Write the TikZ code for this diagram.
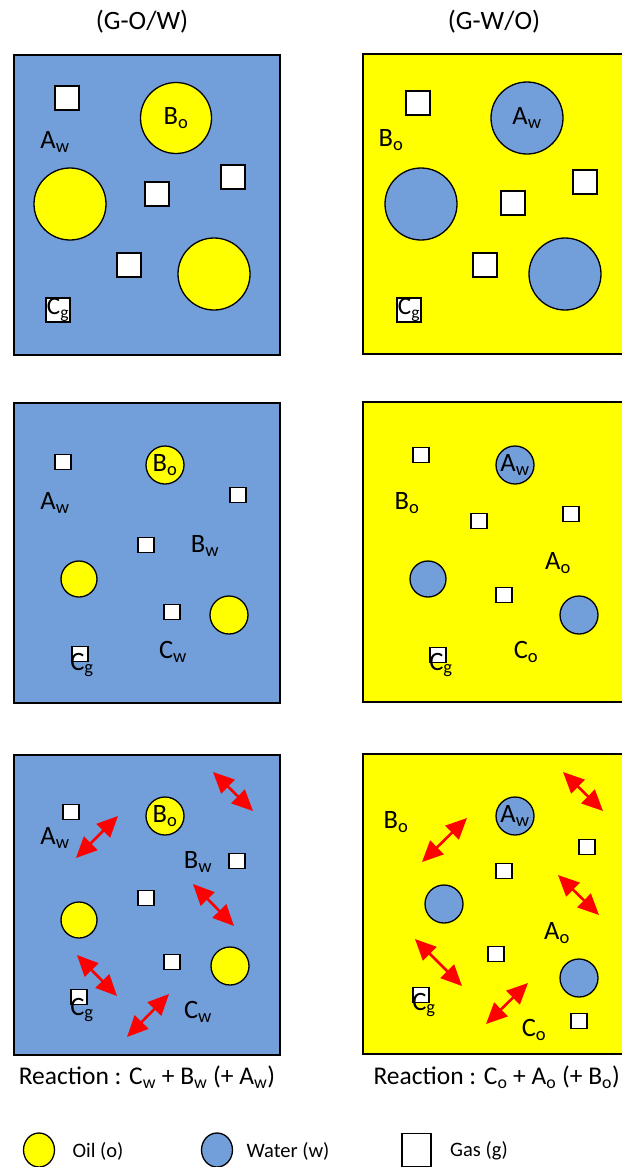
\documentclass[tikz,border=0pt]{standalone}
\usepackage{fontspec}
\setmainfont{Carlito}
\usetikzlibrary{arrows.meta,shapes.geometric}
\definecolor{wat}{RGB}{114,159,218}
\definecolor{oilc}{RGB}{255,255,0}
\tikzset{
  panelline/.style={draw=black,line width=1.6pt},
  oil/.style={circle,draw=black,fill=oilc,line width=1.3pt,inner sep=0pt,font=\fontsize{26.5}{32}\selectfont},
  water/.style={circle,draw=black,fill=wat,line width=1.3pt,inner sep=0pt,font=\fontsize{26.5}{32}\selectfont},
  gasbig/.style={rectangle,draw=black,fill=white,line width=1.3pt,minimum width=24pt,minimum height=24pt,inner sep=0pt,font=\fontsize{25}{30}\selectfont},
  gassm/.style={rectangle,draw=black,fill=white,line width=1.3pt,minimum width=16pt,minimum height=15pt,inner sep=0pt},
  lbl/.style={inner sep=0pt,font=\fontsize{26.5}{32}\selectfont},
  react/.style={inner sep=0pt,font=\fontsize{25.5}{30}\selectfont},
  leg/.style={inner sep=0pt,font=\fontsize{20.5}{24}\selectfont},
  rarrow/.style={draw=red,line width=2.6pt,{Triangle[length=21pt,width=19pt]}-{Triangle[length=21pt,width=19pt]}}
}
\newcommand{\sbs}[1]{\textsubscript{#1}}
\begin{document}
\begin{tikzpicture}[x=1pt,y=-1pt]
\useasboundingbox (0,0) rectangle (622,1167);
% titles
\node[lbl] (t1) at (142,22) {(G-O/W)};
\node[lbl] (t2) at (494,22) {(G-W/O)};
% panels
\node[panelline,fill=wat,minimum width=266pt,minimum height=300pt,anchor=north west,inner sep=0pt] (p1) at (13,54) {};
\fill[oilc] (363,54) rectangle (622,354);
\draw[line width=1.6pt] (622,54) -- (363,54) -- (363,354) -- (622,354);
\node[panelline,fill=wat,minimum width=266pt,minimum height=300pt,anchor=north west,inner sep=0pt] (p3) at (13,402) {};
\fill[oilc] (363,402) rectangle (622,702);
\draw[line width=1.6pt] (622,402) -- (363,402) -- (363,702) -- (622,702);
\node[panelline,fill=wat,minimum width=266pt,minimum height=300pt,anchor=north west,inner sep=0pt] (p5) at (13,754) {};
\fill[oilc] (363,754) rectangle (622,1054);
\draw[line width=1.6pt] (622,754) -- (363,754) -- (363,1054) -- (622,1054);

% panel 1
\node[gasbig] (a1) at (67,98) {};
\node[oil,minimum size=71pt] (a2) at (176,118) {B\sbs{o}};
\node[lbl] (a3) at (55,142) {A\sbs{w}};
\node[oil,minimum size=72pt] (a4) at (70,204) {};
\node[gasbig] (a5) at (157,194) {};
\node[gasbig] (a6) at (233,177) {};
\node[gasbig] (a7) at (129,265) {};
\node[oil,minimum size=72pt] (a8) at (214,274) {};
\node[gasbig] (a9) at (58,310) {C\sbs{g}};

% panel 2
\node[gasbig] (b1) at (418,103) {};
\node[water,minimum size=72pt] (b2) at (527,118) {A\sbs{w}};
\node[lbl] (b3) at (391,140) {B\sbs{o}};
\node[water,minimum size=72pt] (b4) at (421,204) {};
\node[gasbig] (b5) at (513,203) {};
\node[gasbig] (b6) at (585,182) {};
\node[gasbig] (b7) at (485,265) {};
\node[water,minimum size=72pt] (b8) at (565,274) {};
\node[gasbig] (b9) at (409,310) {C\sbs{g}};

% panel 3
\node[gassm] (c1) at (63,462) {};
\node[oil,minimum size=38pt] (c2) at (165,465) {B\sbs{o}};
\node[lbl] (c3) at (55,503) {A\sbs{w}};
\node[gassm] (c4) at (238,495) {};
\node[gassm] (c5) at (146,545) {};
\node[lbl] (c6) at (205,546) {B\sbs{w}};
\node[oil,minimum size=36pt] (c7) at (79,579) {};
\node[gassm] (c8) at (172,612) {};
\node[oil,minimum size=38pt] (c9) at (229,615) {};
\node[gassm] (c10) at (80,654) {};
\node[lbl] (c11) at (82,665) {C\sbs{g}};
\node[lbl] (c12) at (173,652) {C\sbs{w}};

% panel 4
\node[gassm] (d1) at (421,455) {};
\node[water,minimum size=38pt] (d2) at (515,465) {A\sbs{w}};
\node[lbl] (d3) at (407,503) {B\sbs{o}};
\node[gassm] (d4) at (479,521) {};
\node[gassm] (d5) at (571,514) {};
\node[lbl] (d6) at (558,563) {A\sbs{o}};
\node[water,minimum size=36pt] (d7) at (428,579) {};
\node[gassm] (d8) at (504,595) {};
\node[water,minimum size=38pt] (d9) at (579,615) {};
\node[gassm] (d10) at (438,655) {};
\node[lbl] (d11) at (441,665) {C\sbs{g}};
\node[lbl] (d12) at (526,652) {C\sbs{o}};

% panel 5
\node[gassm] (e1) at (71,812) {};
\node[oil,minimum size=38pt] (e2) at (165,816) {B\sbs{o}};
\node[lbl] (e3) at (55,838) {A\sbs{w}};
\node[lbl] (e4) at (198,862) {B\sbs{w}};
\node[gassm] (e5) at (237,861) {};
\node[gassm] (e6) at (146,898) {};
\node[oil,minimum size=36pt] (e7) at (79,920) {};
\node[gassm] (e8) at (172,962) {};
\node[oil,minimum size=38pt] (e9) at (230,966) {};
\node[gassm] (e10) at (79,997) {};
\node[lbl] (e11) at (82,1010) {C\sbs{g}};
\node[lbl] (e12) at (198,1012) {C\sbs{w}};
\node[react] (e13) at (147,1077) {Reaction : C\sbs{w} + B\sbs{w} (+ A\sbs{w})};
\coordinate (ea1) at (76,858); \coordinate (eb1) at (118,816);
\coordinate (ea2) at (213,772); \coordinate (eb2) at (253,811);
\coordinate (ea3) at (193,884); \coordinate (eb3) at (234,926);
\coordinate (ea4) at (77,955); \coordinate (eb4) at (117,996);
\coordinate (ea5) at (127,1037); \coordinate (eb5) at (169,994);
\foreach \i in {1,...,5} {\draw[rarrow] (ea\i) -- (eb\i);}

% panel 6
\node[lbl] (f1) at (396,822) {B\sbs{o}};
\node[water,minimum size=38pt] (f2) at (515,816) {A\sbs{w}};
\node[gassm] (f3) at (587,847) {};
\node[gassm] (f4) at (504,871) {};
\node[water,minimum size=38pt] (f5) at (444,904) {};
\node[lbl] (f6) at (557,933) {A\sbs{o}};
\node[gassm] (f7) at (496,954) {};
\node[water,minimum size=38pt] (f8) at (579,978) {};
\node[gassm] (f9) at (421,995) {};
\node[lbl] (f10) at (424,1005) {C\sbs{g}};
\node[gassm] (f11) at (579,1021) {};
\node[lbl] (f12) at (534,1030) {C\sbs{o}};
\node[react,anchor=east] (f13) at (620,1077) {Reaction : C\sbs{o} + A\sbs{o} (+ B\sbs{o})};
\coordinate (fa1) at (422,862); \coordinate (fb1) at (467,818);
\coordinate (fa2) at (563,772); \coordinate (fb2) at (603,811);
\coordinate (fa3) at (558,875); \coordinate (fb3) at (599,915);
\coordinate (fa4) at (415,939); \coordinate (fb4) at (462,986);
\coordinate (fa5) at (486,1024); \coordinate (fb5) at (528,983);
\foreach \i in {1,...,5} {\draw[rarrow] (fa\i) -- (fb\i);}

% legend
\node[ellipse,draw=black,fill=oilc,line width=1.3pt,minimum width=31pt,minimum height=34pt,inner sep=0pt] (g1) at (39,1150) {};
\node[leg] (g2) at (98,1151) {Oil (o)};
\node[ellipse,draw=black,fill=wat,line width=1.3pt,minimum width=31pt,minimum height=34pt,inner sep=0pt] (g3) at (217,1150) {};
\node[leg] (g4) at (288,1151) {Water (w)};
\node[rectangle,draw=black,fill=white,line width=1.3pt,minimum width=29pt,minimum height=33pt,inner sep=0pt] (g5) at (416.5,1150) {};
\node[leg] (g6) at (479,1151) {Gas (g)};
\end{tikzpicture}
\end{document}
